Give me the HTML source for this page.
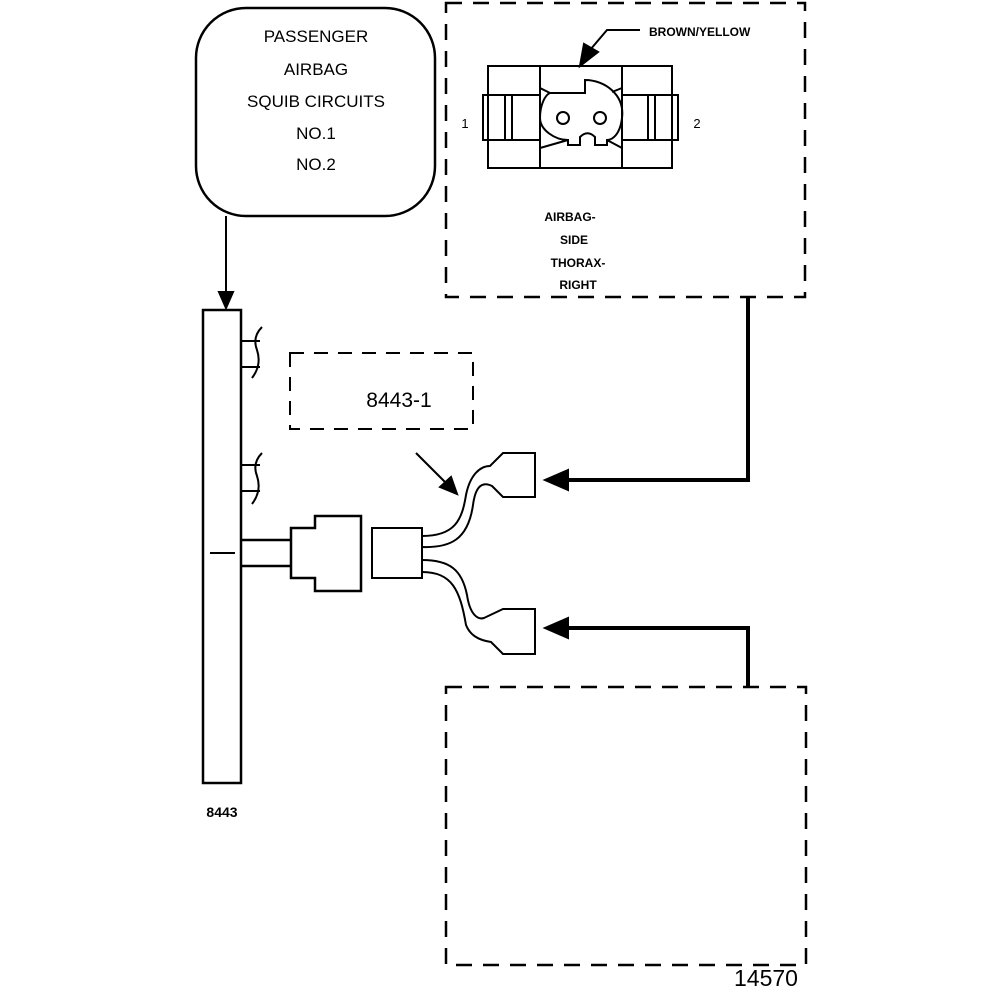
<!DOCTYPE html>
<html><head><style>body{margin:0;background:#fff}svg{display:block}</style></head><body>
<svg width="1008" height="1000" viewBox="0 0 1008 1000" xmlns="http://www.w3.org/2000/svg" font-family="Liberation Sans, sans-serif" fill="none" stroke="#000" stroke-width="2">
<rect x="196" y="8" width="239" height="208" rx="50" stroke-width="2.5"/>
<g fill="#000" stroke="none" font-size="17" text-anchor="middle">
<text x="316" y="42">PASSENGER</text><text x="316" y="75">AIRBAG</text><text x="316" y="107">SQUIB CIRCUITS</text><text x="316" y="139">NO.1</text><text x="316" y="170">NO.2</text>
<text x="399" y="407" font-size="21">8443-1</text>
<text x="222" y="817" font-size="14" font-weight="bold">8443</text>
<text x="766" y="986" font-size="23">14570</text>
<text x="649" y="36" font-size="12" text-anchor="start" font-weight="bold">BROWN/YELLOW</text>
<text x="465" y="128" font-size="13">1</text><text x="697" y="128" font-size="13">2</text>
<g font-size="12" font-weight="bold"><text x="570" y="221">AIRBAG-</text><text x="574" y="244">SIDE</text><text x="578" y="267">THORAX-</text><text x="578" y="289">RIGHT</text></g>
</g>
<line x1="226" y1="216" x2="226" y2="296"/><path d="M219 292 L226 308 L233 292Z" fill="#000"/>
<rect x="203" y="310" width="38" height="473" stroke-width="2.5"/>
<path d="M241 341H260M241 367H260M241 465H260M241 491H260M210 553H235"/>
<path d="M262 327 Q252 337 257 350 Q262 365 252 378M262 453 Q252 463 257 476 Q262 491 252 504"/>
<path d="M241 540H291M241 566H291" stroke-width="2.5"/>
<path d="M315 528H291V578H315V591H361V516H315Z" stroke-width="2.5"/>
<rect x="372" y="528" width="50" height="50"/>
<path d="M422 536 C455 536 462 520 466 495 C470 475 480 466 490 466 L503 453 H535 V497 H503 L492 486 C480 480 475 490 473 505 C468 540 450 548 422 547" stroke-width="2"/>
<path d="M422 560 C450 560 462 570 467 595 C470 615 478 620 484 618 L503 609 H535 V654 H503 L491 642 C478 640 470 635 466 625 C460 590 452 572 422 572" stroke-width="2"/>
<rect x="290" y="353" width="183" height="76" stroke-dasharray="14 10"/>
<line x1="416" y1="453" x2="448" y2="485"/><path d="M440 487 L457 494 L451 477Z" fill="#000"/>
<path d="M748 298 V480 H565 M748 687 V628 H565" stroke-width="4"/>
<path d="M568 470 L545 480 L568 490Z M568 618 L545 628 L568 638Z" fill="#000"/>
<rect x="446" y="3" width="359" height="294" stroke-dasharray="16 11" stroke-width="2.5"/>
<rect x="446" y="687" width="360" height="278" stroke-dasharray="16 11" stroke-width="2.5"/>
<rect x="488" y="66" width="184" height="102"/>
<path d="M540 66V168M622 66V168"/>
<rect x="483" y="95" width="57" height="45"/><rect x="622" y="95" width="56" height="45"/>
<path d="M505 95V140M512 95V140M648 95V140M655 95V140"/>
<path d="M540 88 L550 93 H585 V80 C605 80 625 95 622 118 C620 135 612 140 607 140 V145 H595 V137 C590 132 585 132 580 137 V145 H568 V140 C555 140 540 130 540 118 C540 105 545 95 550 93 M540 148 L568 140 M622 88 L612 92 M622 148 L607 140"/>
<circle cx="563" cy="118" r="6"/><circle cx="600" cy="118" r="6"/>
<path d="M640 30 H607 L590 50"/><path d="M580 66 L584 44 L598 52Z" fill="#000"/>
</svg>
</body></html>
